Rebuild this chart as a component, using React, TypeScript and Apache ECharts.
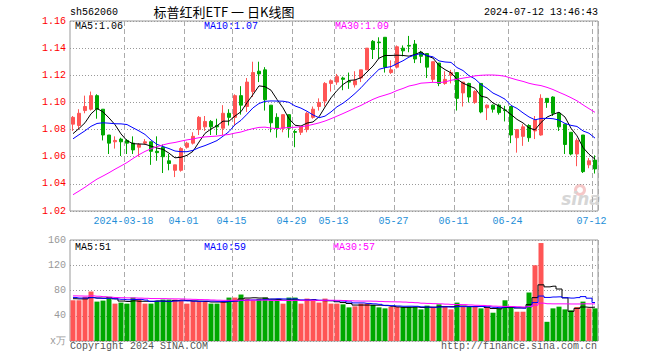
import React, { useEffect, useRef } from 'react';
import * as echarts from 'echarts';

const dates = [
  '2024-03-05','2024-03-06','2024-03-07','2024-03-08','2024-03-11','2024-03-12','2024-03-13','2024-03-14','2024-03-15','2024-03-18',
  '2024-03-19','2024-03-20','2024-03-21','2024-03-22','2024-03-25','2024-03-26','2024-03-27','2024-03-28','2024-03-29','2024-04-01',
  '2024-04-02','2024-04-03','2024-04-08','2024-04-09','2024-04-10','2024-04-11','2024-04-12','2024-04-15','2024-04-16','2024-04-17',
  '2024-04-18','2024-04-19','2024-04-22','2024-04-23','2024-04-24','2024-04-25','2024-04-26','2024-04-29','2024-04-30','2024-05-06',
  '2024-05-07','2024-05-08','2024-05-09','2024-05-10','2024-05-13','2024-05-14','2024-05-15','2024-05-16','2024-05-17','2024-05-20',
  '2024-05-21','2024-05-22','2024-05-23','2024-05-24','2024-05-27','2024-05-28','2024-05-29','2024-05-30','2024-05-31','2024-06-03',
  '2024-06-04','2024-06-05','2024-06-06','2024-06-07','2024-06-11','2024-06-12','2024-06-13','2024-06-14','2024-06-17','2024-06-18',
  '2024-06-19','2024-06-20','2024-06-21','2024-06-24','2024-06-25','2024-06-26','2024-06-27','2024-06-28','2024-07-01','2024-07-02',
  '2024-07-03','2024-07-04','2024-07-05','2024-07-08','2024-07-09','2024-07-10','2024-07-11','2024-07-12',
];

const tickDates = ['2024-03-18','2024-04-01','2024-04-15','2024-04-29','2024-05-13','2024-05-27','2024-06-11','2024-06-24','2024-07-12'];

const opens = [
  1.084,1.083,1.094,1.095,1.105,1.095,1.076,1.071,1.073,1.072,
  1.070,1.067,1.070,1.071,1.064,1.067,1.057,1.050,1.050,1.067,
  1.070,1.080,1.082,1.086,1.083,1.081,1.092,1.089,1.105,1.097,
  1.108,1.123,1.124,1.098,1.089,1.081,1.091,1.0785,1.078,1.080,
  1.089,1.097,1.101,1.114,1.115,1.118,1.1155,1.113,1.118,1.124,
  1.145,1.1445,1.148,1.122,1.126,1.140,1.142,1.143,1.137,1.136,
  1.117,1.129,1.114,1.120,1.122,1.107,1.114,1.100,1.114,1.096,
  1.098,1.098,1.0945,1.097,1.074,1.075,1.083,1.079,1.076,1.103,
  1.104,1.092,1.084,1.078,1.062,1.076,1.054,1.0575,
];
const closes = [
  1.089,1.092,1.097,1.105,1.095,1.076,1.070,1.072,1.071,1.070,
  1.065,1.069,1.071,1.064,1.063,1.060,1.055,1.054,1.066,1.070,
  1.075,1.089,1.086,1.082,1.082,1.092,1.089,1.105,1.098,1.115,
  1.122,1.121,1.102,1.085,1.081,1.091,1.081,1.078,1.082,1.092,
  1.095,1.100,1.114,1.116,1.119,1.117,1.115,1.116,1.124,1.140,
  1.139,1.144,1.126,1.124,1.141,1.138,1.1415,1.132,1.134,1.126,
  1.130,1.114,1.117,1.122,1.103,1.115,1.104,1.108,1.093,1.098,
  1.095,1.0925,1.094,1.076,1.080,1.082,1.074,1.087,1.103,1.100,
  1.092,1.082,1.069,1.062,1.072,1.049,1.057,1.051,
];
const lows = [
  1.079,1.080,1.092,1.094,1.088,1.072,1.062,1.066,1.0605,1.062,
  1.062,1.060,1.069,1.054,1.057,1.048,1.050,1.045,1.049,1.066,
  1.069,1.076,1.079,1.076,1.076,1.076,1.083,1.083,1.091,1.093,
  1.104,1.115,1.094,1.078,1.074,1.078,1.074,1.067,1.076,1.078,
  1.088,1.094,1.097,1.108,1.113,1.109,1.110,1.111,1.115,1.124,
  1.132,1.132,1.122,1.121,1.125,1.134,1.137,1.129,1.129,1.118,
  1.115,1.112,1.113,1.114,1.094,1.097,1.100,1.099,1.092,1.087,
  1.0925,1.091,1.086,1.070,1.063,1.068,1.071,1.073,1.0755,1.096,
  1.090,1.079,1.062,1.061,1.053,1.048,1.0515,1.0476,
];
const highs = [
  1.090,1.095,1.105,1.108,1.106,1.095,1.076,1.075,1.074,1.073,
  1.075,1.070,1.073,1.071,1.075,1.069,1.062,1.054,1.067,1.071,
  1.078,1.090,1.090,1.087,1.088,1.098,1.095,1.106,1.112,1.118,
  1.130,1.130,1.126,1.098,1.092,1.091,1.091,1.080,1.082,1.093,
  1.097,1.103,1.115,1.117,1.121,1.119,1.122,1.123,1.124,1.140,
  1.146,1.148,1.148,1.131,1.142,1.142,1.149,1.146,1.138,1.136,
  1.130,1.129,1.123,1.124,1.122,1.115,1.1145,1.109,1.114,1.0985,
  1.0985,1.099,1.0975,1.097,1.080,1.084,1.084,1.090,1.106,1.103,
  1.1045,1.0925,1.084,1.078,1.0735,1.076,1.059,1.061,
];
// volume, 万
const volumes = [
  64.5,64.5,70,78.4,62.4,64,70,59.2,60.8,59.2,
  68.8,66.7,59.2,59.2,63.5,65.6,65.6,65.6,63.5,59.2,
  63.5,63.5,63.5,59.2,59.2,62.4,68.8,68.8,73.6,66.7,
  64.5,66.7,68.8,64.5,64.5,59.2,68.8,68.8,59.2,67.2,
  64.5,60.8,67.2,59.2,59.2,58.1,53.3,54.9,59.2,59.2,
  57.1,53.3,51.7,53.9,53.9,53.9,53.9,53.9,50.1,56,
  53.9,58.1,53.9,50.1,60.8,53.9,53.9,53.9,51.7,52.8,
  44.8,51.7,64.5,53.9,46.4,46.4,76.8,120,155.2,30.4,
  51.7,54.4,50.1,48.5,53.9,62.4,51.7,51.7,
];
// estimated closes / volumes of the 29 sessions before the first shown day (for the moving averages)
const priorCloses = [
  1.010,1.015,1.012,1.008,1.005,0.998,0.995,1.000,0.994,
  0.975,0.985,0.998,1.008,1.015,1.020,1.024,1.032,1.037,1.042,
  1.055,1.062,1.068,1.072,1.074,1.071,1.073,1.076,1.072,1.075,
];
const priorVolumes = [
  70,75,68,80,85,92,78,70,66,72,74,69,71,65,68,73,70,67,71,71,
  74,70,72,69,70,66,70,68,66.5,
];

const priceTicks = [1.02, 1.16, 0.02];
const volumeTicks = [0, 160, 40];
const legendPrice = ['MA5:1.06', 'MA10:1.07', 'MA30:1.09'];
const legendVolume = ['MA5:51', 'MA10:59', 'MA30:57'];

const RED = '#ff5555';
const GREEN = '#00a800';
const MA_COLORS = ['#000000', '#0000ff', '#ff00ff'];
const MONO = '"Liberation Mono", "DejaVu Sans Mono", monospace';

function movingAverage(prior: number[], values: number[], n: number) {
  const all = prior.concat(values);
  const off = prior.length;
  return values.map((_, i) => {
    const end = off + i;
    const start = end - n + 1;
    if (start < 0) return '-';
    let s = 0;
    for (let k = start; k <= end; k++) s += all[k];
    return +(s / n).toFixed(4);
  });
}

export default function App() {
  const ref = useRef<HTMLDivElement>(null);
  useEffect(() => {
    if (!ref.current) return;
    const chart = echarts.init(ref.current, undefined, { renderer: 'svg' });
    const showTick = (_i: number, v: string) => tickDates.indexOf(v) >= 0;
    const splitV = { show: true, interval: showTick, lineStyle: { color: '#aaaaaa', type: [5, 3], width: 1 } };
    const candle = dates.map((_, i) => [opens[i], closes[i], lows[i], highs[i]]);
    const periods = [5, 10, 30];
    const priceMA = periods.map((n) => movingAverage(priorCloses, closes, n));
    const volMA = periods.map((n) => movingAverage(priorVolumes, volumes, n));
    const textStyle = (x: number, y: number, text: string, fill: string, align = 'left', font = `10px ${MONO}`) => ({
      type: 'text',
      silent: true,
      style: { x, y, text, fill, font, align, textAlign: align, verticalAlign: 'middle', textVerticalAlign: 'middle' },
    });
    const option: any = {
      animation: false,
      backgroundColor: '#ffffff',
      grid: [
        { left: 70, top: 21, width: 528, height: 190, show: true, borderColor: '#999', borderWidth: 1, backgroundColor: 'transparent' },
        { left: 70, top: 240, width: 528, height: 101, show: true, borderColor: '#999', borderWidth: 1, backgroundColor: 'transparent' },
      ],
      xAxis: [
        {
          type: 'category', gridIndex: 0, data: dates, boundaryGap: true,
          axisLine: { show: false }, axisTick: { show: false },
          axisLabel: {
            interval: showTick, color: '#1f8fd8', fontFamily: MONO, fontSize: 10, margin: 5, padding: [0, 7, 0, 0],
            formatter: (v: string) => (v === tickDates[0] ? v : v.slice(5)),
          },
          splitLine: splitV,
        },
        {
          type: 'category', gridIndex: 1, data: dates, boundaryGap: true,
          axisLine: { show: false }, axisTick: { show: false }, axisLabel: { show: false },
          splitLine: splitV,
        },
      ],
      yAxis: [
        {
          type: 'value', gridIndex: 0, min: priceTicks[0], max: priceTicks[1], interval: priceTicks[2],
          axisLine: { show: false }, axisTick: { show: false },
          axisLabel: { color: '#ff0000', fontFamily: MONO, fontSize: 10, margin: 4, showMinLabel: true, showMaxLabel: true, formatter: (v: number) => v.toFixed(2) },
          splitLine: { lineStyle: { color: '#999', type: [1, 2], width: 1 } },
        },
        {
          type: 'value', gridIndex: 1, min: volumeTicks[0], max: volumeTicks[1], interval: volumeTicks[2],
          axisLine: { show: false }, axisTick: { show: false },
          axisLabel: { color: '#999', fontFamily: MONO, fontSize: 10, margin: 4, showMinLabel: true, showMaxLabel: true, formatter: (v: number) => (v === 0 ? 'x万' : String(v)) },
          splitLine: { lineStyle: { color: '#999', type: [1, 2], width: 1 } },
        },
      ],
      series: [
        {
          type: 'candlestick', xAxisIndex: 0, yAxisIndex: 0, data: candle, barWidth: 4,
          itemStyle: { color: RED, color0: GREEN, borderColor: RED, borderColor0: GREEN, borderWidth: 1 },
        },
        ...priceMA.map((d, k) => ({
          type: 'line', xAxisIndex: 0, yAxisIndex: 0, data: d, symbol: 'none', silent: true,
          lineStyle: { color: MA_COLORS[k], width: 1 },
        })),
        {
          type: 'bar', xAxisIndex: 1, yAxisIndex: 1, barWidth: 5,
          data: volumes.map((v, i) => ({ value: v, itemStyle: { color: closes[i] > opens[i] ? RED : GREEN } })),
        },
        ...volMA.map((d, k) => ({
          type: 'line', xAxisIndex: 1, yAxisIndex: 1, data: d, symbol: 'none', silent: true, step: 'middle',
          lineStyle: { color: MA_COLORS[k], width: 1 },
        })),
      ],
      graphic: [
        textStyle(70, 12, 'sh562060', '#000'),
        textStyle(224, 11, '标普红利ETF 一 日K线图', '#000', 'center', '13px "Noto Sans CJK SC"'),
        textStyle(598, 12, '2024-07-12 13:46:43', '#000', 'right'),
        textStyle(75, 26.5, legendPrice[0], MA_COLORS[0]),
        textStyle(204, 26.5, legendPrice[1], MA_COLORS[1]),
        textStyle(335, 26.5, legendPrice[2], MA_COLORS[2]),
        textStyle(75, 247, legendVolume[0], MA_COLORS[0]),
        textStyle(204, 247, legendVolume[1], MA_COLORS[1]),
        textStyle(333, 247, legendVolume[2], MA_COLORS[2]),
        textStyle(70, 346, 'Copyright 2024 SINA.COM', '#555'),
        textStyle(597, 346, 'http://finance.sina.com.cn', '#555', 'right'),
        { type: 'ring', silent: true, shape: { cx: 580, cy: 190, r: 6, r0: 3 }, style: { fill: '#f5c8c8' } },
        textStyle(581, 199, 'sina', '#d6d6d6', 'center', 'italic bold 17px "DejaVu Sans"'),
      ],
    };
    chart.setOption(option);
    return () => chart.dispose();
  }, []);
  return <div ref={ref} style={{ position: 'fixed', left: 0, top: 0, width: 660, height: 360 }} />;
}
